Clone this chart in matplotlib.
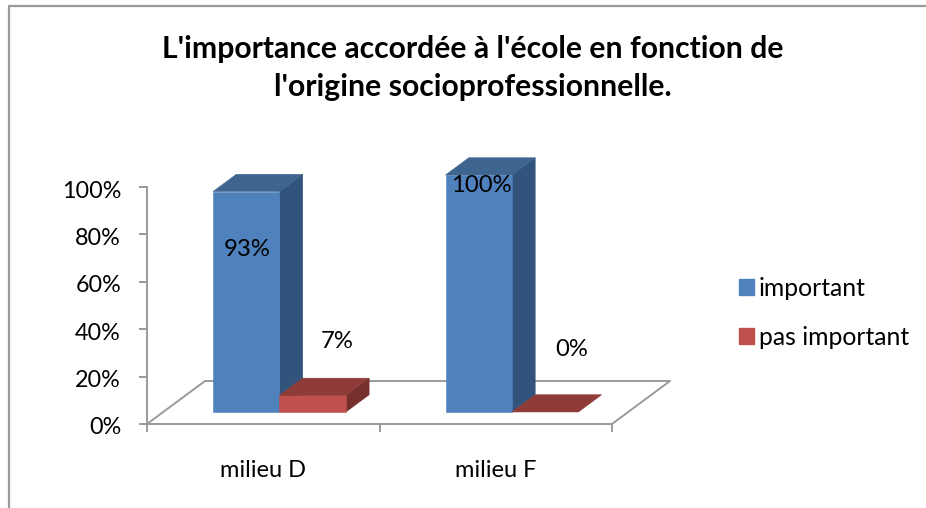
#!/usr/bin/env python
"""Pseudo-3D clustered columns: importance of school by social origin."""
import matplotlib
matplotlib.use("Agg")
import matplotlib.pyplot as plt
from matplotlib.patches import Patch, Polygon
from matplotlib.transforms import ScaledTranslation

W, H = 926, 508

categories = ["milieu D", "milieu F"]
series_names = ["important", "pas important"]
important = [93, 100]
pas_important = [7, 0]
y_ticks = [0, 20, 40, 60, 80, 100]

FRONT = ["#4F81BD", "#C0504D"]
TOP = ["#3E6590", "#8F3C39"]
SIDE = ["#32547C", "#762F2D"]
GREY = "#9A9A9A"

# depth of the floor in data units (58 px across, 43 px up)
DX, DY = 58 / 232.5, 43 / 2.37
D0, D1 = 0.28, 0.68      # bar depth range on the floor
BAR_W = 1 / 3.5

plt.rcParams["font.family"] = ["Lato", "DejaVu Sans"]


def proj(x, y, d):
    return (x + d * DX, y + d * DY)


def px(x, y):
    """Reference pixel position to figure fraction."""
    return x / W, 1 - y / H


def draw_bar(ax, x, val, i):
    x2 = x + BAR_W
    faces = []
    if val > 0:
        faces.append(([proj(x2, 0, D0), proj(x2, 0, D1), proj(x2, val, D1), proj(x2, val, D0)], SIDE[i]))
        faces.append(([proj(x, 0, D0), proj(x2, 0, D0), proj(x2, val, D0), proj(x, val, D0)], FRONT[i]))
    faces.append(([proj(x, val, D0), proj(x2, val, D0), proj(x2, val, D1), proj(x, val, D1)], TOP[i]))
    for pts, col in faces:
        ax.add_patch(Polygon(pts, closed=True, facecolor=col, edgecolor=col,
                             linewidth=0.4, zorder=4, clip_on=False))


fig = plt.figure(figsize=(W / 100, H / 100), dpi=100)
ax = fig.add_axes([147 / W, 1 - 424 / H, 465 / W, 237 / H])
ax.set_xlim(0, 2)
ax.set_ylim(0, 100)
ax.patch.set_visible(False)

for s in ["top", "right"]:
    ax.spines[s].set_visible(False)
for s in ["left", "bottom"]:
    ax.spines[s].set_color(GREY)
    ax.spines[s].set_linewidth(1.4)

ax.set_yticks(y_ticks)
ax.set_yticklabels([f"{t}%" for t in y_ticks])
ax.set_xticks([0, 1, 2])
ax.set_xticklabels([])
ax.tick_params(axis="both", color=GREY, width=1.4, length=6)
ax.tick_params(axis="y", labelsize=16.8, pad=12.7, labelcolor="black")
# tick labels sit 2 px lower than matplotlib centres them
nudge = ScaledTranslation(0, -2 / 100, fig.dpi_scale_trans)
for lbl in ax.get_yticklabels():
    lbl.set_transform(lbl.get_transform() + nudge)

# floor outline
ax.plot(*zip(proj(0, 0, 0), proj(0, 0, 1), proj(2, 0, 1), proj(2, 0, 0)),
        color=GREY, lw=1.4, clip_on=False, zorder=2)

for c, (a, b) in enumerate(zip(important, pas_important)):
    x = c + 0.75 * BAR_W
    draw_bar(ax, x, a, 0)
    draw_bar(ax, x + BAR_W, b, 1)
    ax.text(c + 0.5, -19.5, categories[c], ha="center", va="center", fontsize=17)

# data labels sit where the source chart left them
label_vals = [important[0], pas_important[0], important[1], pas_important[1]]
label_pos = [(247, 250), (337, 342), (481, 185), (572, 349)]
for v, (lx, ly) in zip(label_vals, label_pos):
    fx, fy = px(lx, ly)
    fig.text(fx, fy, f"{v}%", ha="center", va="center", fontsize=17.2,
             color="black", zorder=6)

fig.text(*px(473, 68), "L'importance accordée à l'école en fonction de\n"
         "l'origine socioprofessionnelle.", ha="center", va="center",
         fontsize=21.7, fontweight="bold", linespacing=1.45)

handles = [Patch(facecolor=FRONT[i], edgecolor=FRONT[i]) for i in range(2)]
fig.legend(handles, series_names, loc="center left", bbox_to_anchor=px(739, 313),
           frameon=False, fontsize=17.8, handlelength=0.6, handleheight=0.6,
           handletextpad=0.2, labelspacing=1.05, borderpad=0, borderaxespad=0)

# chart frame, only top and left are inside the crop
fig.add_artist(plt.Line2D([9 / W, 9 / W, 1], [0, 1 - 6 / H, 1 - 6 / H],
                          color=GREY, lw=1.6, transform=fig.transFigure))

fig.savefig("out.png", dpi=100)
